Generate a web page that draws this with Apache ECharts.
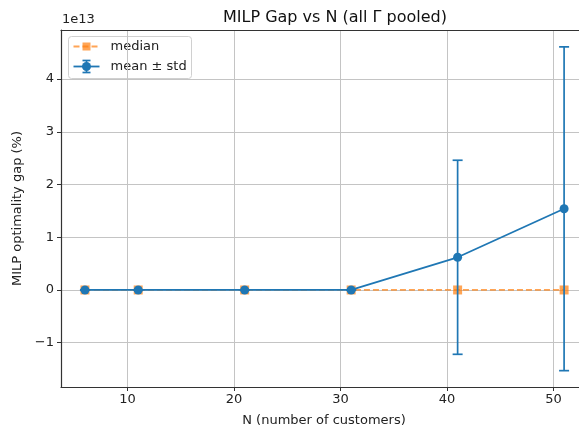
<!DOCTYPE html>
<html>
<head>
<meta charset="utf-8">
<script src="https://cdn.jsdelivr.net/npm/echarts@6/dist/echarts.min.js"></script>
<style>
  html, body { margin: 0; padding: 0; background: #fff; }
  #chart { width: 579px; height: 432px; }
</style>
</head>
<body>
<div id="chart"></div>
<script>
// Customer counts and MILP gap statistics (gap values in units of 1e13 %)
const nValues = [6, 11, 21, 31, 41, 51];
const meanGap = [0, 0, 0, 0, 0.62, 1.54];
const stdGap = [0, 0, 0, 0, 1.84, 3.07];
const medianGap = [0, 0, 0, 0, 0, 0];
const xTicks = [10, 20, 30, 40, 50];
const yTicks = [-1, 0, 1, 2, 3, 4];
const offsetText = '1e13';

const FONT = 'DejaVu Sans';
const BLUE = '#1f77b4';
const ORANGE = '#ff7f0e';
const SPINE = '#333';

const meanPoints = nValues.map((n, i) => [n, meanGap[i]]);
const medianPoints = nValues.map((n, i) => [n, medianGap[i]]);
const errPoints = nValues.map((n, i) => [n, meanGap[i] - stdGap[i], meanGap[i] + stdGap[i]]);

const chart = echarts.init(document.getElementById('chart'), null, { renderer: 'canvas' });

// Vertical error bar with caps at mean ± std
function renderErrorBar(params, api) {
  const x = api.value(0);
  const lo = api.coord([x, api.value(1)]);
  const hi = api.coord([x, api.value(2)]);
  const cap = 5;
  const style = { stroke: BLUE, lineWidth: 1.7 };
  return {
    type: 'group',
    children: [
      { type: 'line', shape: { x1: lo[0], y1: lo[1], x2: hi[0], y2: hi[1] }, style },
      { type: 'line', shape: { x1: hi[0] - cap, y1: hi[1], x2: hi[0] + cap, y2: hi[1] }, style },
      { type: 'line', shape: { x1: lo[0] - cap, y1: lo[1], x2: lo[0] + cap, y2: lo[1] }, style }
    ]
  };
}

const axisFont = { fontFamily: FONT, fontSize: 13, color: '#222' };

chart.setOption({
  animation: false,
  backgroundColor: '#fff',
  title: {
    text: 'MILP Gap vs N (all Γ pooled)',
    left: 330, top: 5, textAlign: 'center',
    textStyle: { fontFamily: FONT, fontSize: 16, fontWeight: 'normal', color: '#111' }
  },
  grid: { left: 61, right: 0, top: 30, bottom: 41, show: false },
  xAxis: [
    {
      type: 'value', min: 3.75, max: 52.4,
      name: 'N (number of customers)', nameLocation: 'middle', nameGap: 27,
      nameTextStyle: { fontFamily: FONT, fontSize: 13, color: '#222', padding: [0, 0, 0, 8] },
      axisLine: { show: true, onZero: false, lineStyle: { color: SPINE, width: 1.2 } },
      axisTick: { show: true, customValues: xTicks, length: 4, lineStyle: { color: SPINE } },
      axisLabel: { customValues: xTicks, ...axisFont, margin: 6 },
      splitLine: { show: true, lineStyle: { color: '#c4c4c4', width: 1 } }
    },
    {
      type: 'value', position: 'top', min: 3.75, max: 52.4,
      axisLine: { show: true, onZero: false, lineStyle: { color: SPINE, width: 1.2 } },
      axisTick: { show: false }, axisLabel: { show: false }, splitLine: { show: false }
    }
  ],
  yAxis: {
    type: 'value', min: -1.84, max: 4.93,
    name: 'MILP optimality gap (%)', nameLocation: 'middle', nameGap: 34, nameRotate: 90,
    nameTextStyle: { fontFamily: FONT, fontSize: 13, color: '#222' },
    axisLine: { show: true, onZero: false, lineStyle: { color: SPINE, width: 1.2 } },
    axisTick: { show: true, customValues: yTicks, length: 4, lineStyle: { color: SPINE } },
    axisLabel: { customValues: yTicks, ...axisFont, margin: 7,
      formatter: v => (v < 0 ? '\u2212' + Math.abs(v) : String(v)) },
    splitLine: { show: true, lineStyle: { color: '#c4c4c4', width: 1 } }
  },
  series: [
    {
      name: 'median', type: 'line', data: medianPoints, z: 2,
      symbol: 'rect', symbolSize: 9,
      itemStyle: { color: ORANGE, opacity: 0.7 },
      lineStyle: { color: ORANGE, opacity: 0.7, width: 1.8, type: [6, 3] }
    },
    {
      name: 'err', type: 'custom', data: errPoints, z: 3,
      renderItem: renderErrorBar
    },
    {
      name: 'mean ± std', type: 'line', data: meanPoints, z: 4,
      symbol: 'circle', symbolSize: 9,
      itemStyle: { color: BLUE },
      lineStyle: { color: BLUE, width: 1.8 }
    }
  ],
  graphic: [
    { type: 'text', left: 62, top: 13, style: { text: offsetText, fontFamily: FONT, fontSize: 13, fill: '#222' } },
    {
      type: 'group', left: 68, top: 36, z: 100,
      children: [
        { type: 'rect', shape: { x: 0, y: 0, width: 123, height: 42, r: 3 },
          style: { fill: 'rgba(255,255,255,0.8)', stroke: '#d0d0d0', lineWidth: 1 } },
        { type: 'line', shape: { x1: 5, y1: 10, x2: 31, y2: 10 },
          style: { stroke: ORANGE, opacity: 0.7, lineWidth: 1.8, lineDash: [6, 3] } },
        { type: 'rect', shape: { x: 14, y: 6, width: 8, height: 8 }, style: { fill: ORANGE, opacity: 0.7 } },
        { type: 'text', x: 42, y: 10, style: { text: 'median', fontFamily: FONT, fontSize: 13, fill: '#222', verticalAlign: 'middle' } },
        { type: 'line', shape: { x1: 5, y1: 30, x2: 31, y2: 30 }, style: { stroke: BLUE, lineWidth: 1.8 } },
        { type: 'line', shape: { x1: 18, y1: 24, x2: 18, y2: 36 }, style: { stroke: BLUE, lineWidth: 1.7 } },
        { type: 'line', shape: { x1: 14, y1: 24, x2: 22, y2: 24 }, style: { stroke: BLUE, lineWidth: 1.7 } },
        { type: 'line', shape: { x1: 14, y1: 36, x2: 22, y2: 36 }, style: { stroke: BLUE, lineWidth: 1.7 } },
        { type: 'circle', shape: { cx: 18, cy: 30, r: 4.5 }, style: { fill: BLUE } },
        { type: 'text', x: 42, y: 30, style: { text: 'mean ± std', fontFamily: FONT, fontSize: 13, fill: '#222', verticalAlign: 'middle' } }
      ]
    }
  ]
});
</script>
</body>
</html>
